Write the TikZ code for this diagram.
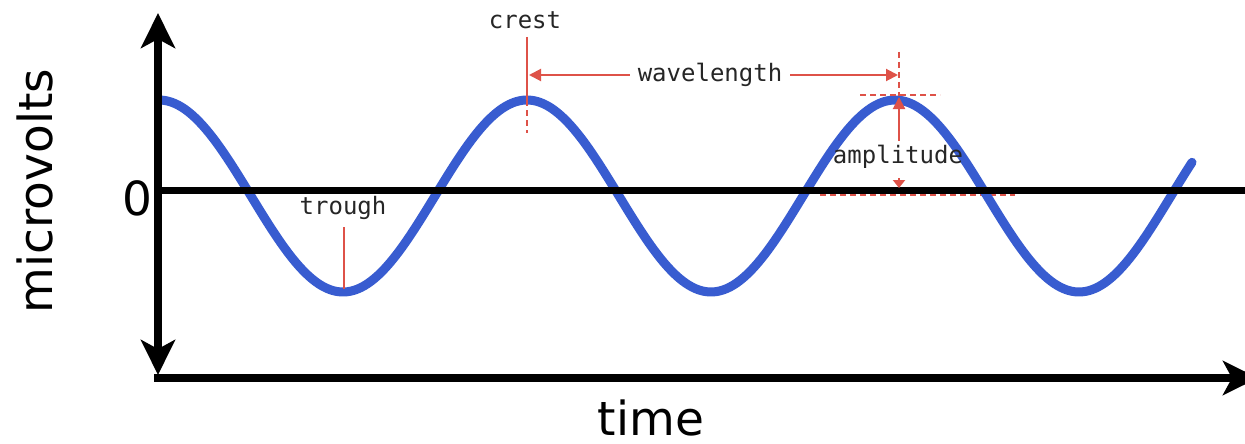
\documentclass[tikz,border=0pt]{standalone}
\usepackage{fontspec}
\setmainfont{DejaVu Sans}
\newfontfamily\labfont{DejaVu Sans Mono}
\usetikzlibrary{arrows.meta}
\definecolor{wave}{RGB}{56,92,208}
\definecolor{anno}{RGB}{222,82,72}
\tikzset{
  axisline/.style={line width=8pt, black},
  axistip/.style={-{Stealth[length=35pt,width=34pt,inset=9pt]}},
  waveline/.style={line width=9pt, wave, line cap=round, line join=round},
  annoline/.style={line width=2pt, anno},
  annotip/.style={-{Triangle[length=12pt,width=12pt]}},
  annodash/.style={line width=1.8pt, anno, dash pattern=on 6pt off 4pt},
  smalllab/.style={font=\labfont\fontsize{24}{26}\selectfont, inner sep=1pt, text=black!85},
  biglab/.style={font=\fontsize{47}{52}\selectfont, inner sep=0pt}
}
\begin{document}
\begin{tikzpicture}[x=1pt,y=-1pt]
\useasboundingbox[fill=white] (0,0) rectangle (1245,444);
% coordinates
\coordinate (ytop) at (158,13);
\coordinate (ybot) at (158,375);
\coordinate (xleft) at (154,378);
\coordinate (xright) at (1258,378);
\coordinate (zl) at (158,190);
\coordinate (zr) at (1245,190);
% red dashed baseline for amplitude (under zero line)
\coordinate (ab1) at (820,195);
\coordinate (ab2) at (1015,195);
\draw[annodash] (ab1) -- (ab2);
% wave
\draw[waveline] plot[domain=161:1192, samples=300] (\x, {196 - 96*cos(0.978261*(\x-159))});
% axes
\draw[axisline, {Stealth[length=35pt,width=34pt,inset=9pt]}-{Stealth[length=35pt,width=34pt,inset=9pt]}] (ybot) -- (ytop);
\draw[axisline, axistip] (xleft) -- (xright);
\draw[line width=7pt] (zl) -- (zr);
% big labels
\node[biglab, anchor=base] (zero) at (137,215) {0};
\node[biglab, anchor=base] (timelab) at (651,435) {time};
\node[biglab, anchor=base, rotate=90] (mvlab) at (52,191) {microvolts};
% crest
\node[smalllab] (crest) at (525,20) {crest};
\coordinate (crestup) at (527,37);
\coordinate (crestpk) at (527,100);
\coordinate (crestlow) at (527,133);
\draw[annoline] (crestup) -- (crestpk);
\draw[annodash] (crestpk) -- (crestlow);
% wavelength
\node[smalllab, inner xsep=8pt] (wl) at (710,75) {wavelength};
\coordinate (wlL) at (529,75);
\coordinate (wlR) at (898,75);
\draw[annoline, annotip] (wl.west) -- (wlL);
\draw[annoline, annotip] (wl.east) -- (wlR);
% crest 2 dashed markers
\coordinate (c2top) at (899,52);
\coordinate (c2bot) at (899,96);
\coordinate (c2l) at (860,95);
\coordinate (c2r) at (940,95);
\draw[annodash] (c2top) -- (c2bot);
\draw[annodash] (c2l) -- (c2r);
% amplitude
\node[smalllab] (amp) at (898,157) {amplitude};
\coordinate (ampS) at (899,141);
\coordinate (ampT) at (899,97);
\coordinate (ampU) at (899,178);
\coordinate (ampB) at (899,188);
\draw[annoline, annotip] (ampS) -- (ampT);
\draw[annoline, -{Triangle[length=8pt,width=12pt]}] (ampU) -- (ampB);
% trough
\node[smalllab] (trough) at (343,208) {trough};
\coordinate (trtop) at (344,227);
\coordinate (trpk) at (344,289);
\draw[annoline] (trtop) -- (trpk);
\end{tikzpicture}
\end{document}
